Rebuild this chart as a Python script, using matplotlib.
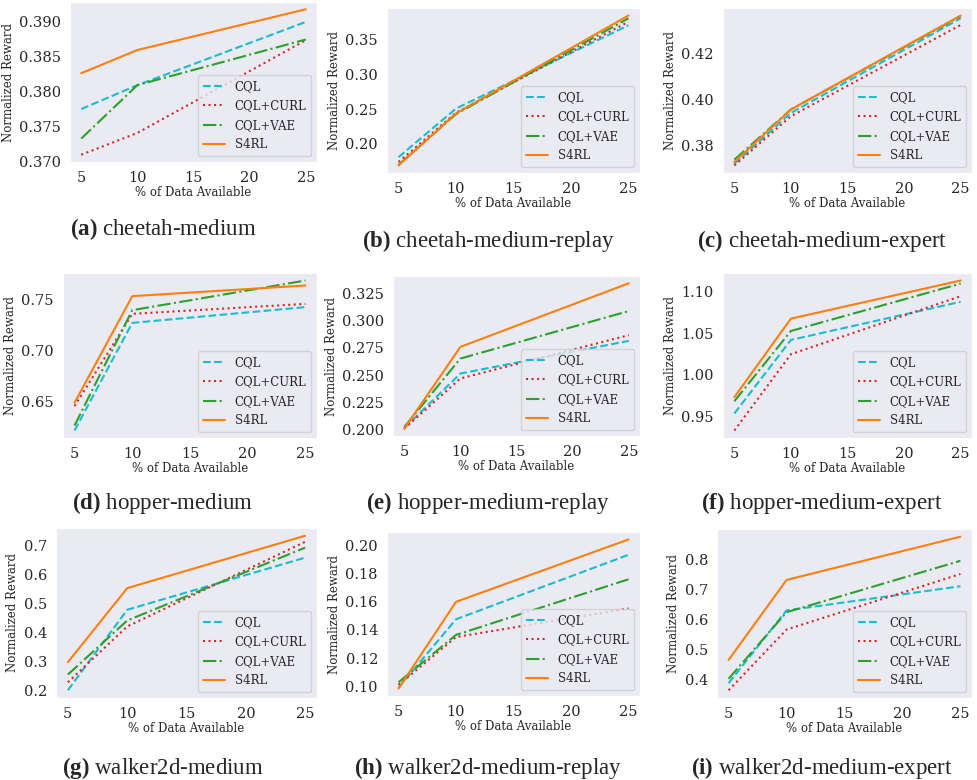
import matplotlib
matplotlib.use("Agg")
import matplotlib.pyplot as plt
import seaborn as sns

sns.set_style("dark")
plt.rcParams["font.family"] = ["DejaVu Serif"]
plt.rcParams["mathtext.fontset"] = "custom"
plt.rcParams["mathtext.rm"] = "Liberation Serif"
plt.rcParams["mathtext.bf"] = "Liberation Serif:bold"

# data
pct = [5, 10, 25]
letters = ["a", "b", "c", "d", "e", "f", "g", "h", "i"]
envs = ["cheetah-medium", "cheetah-medium-replay", "cheetah-medium-expert",
        "hopper-medium", "hopper-medium-replay", "hopper-medium-expert",
        "walker2d-medium", "walker2d-medium-replay", "walker2d-medium-expert"]

cql = [[0.3775, 0.3809, 0.3899],
       [0.181, 0.251, 0.371],
       [0.3722, 0.3942, 0.4351],
       [0.6211, 0.7270, 0.7425],
       [0.2015, 0.2515, 0.2814],
       [0.9532, 1.042, 1.088],
       [0.200, 0.477, 0.6565],
       [0.099, 0.1476, 0.1934],
       [0.389, 0.630, 0.710]]
cql_curl = [[0.3710, 0.3741, 0.3873],
            [0.174, 0.245, 0.376],
            [0.3715, 0.3928, 0.4322],
            [0.6451, 0.7359, 0.7457],
            [0.201, 0.247, 0.2866],
            [0.9327, 1.0247, 1.0948],
            [0.2275, 0.4195, 0.711],
            [0.101, 0.1350, 0.1553],
            [0.365, 0.5665, 0.7507]]
cql_vae = [[0.3733, 0.3809, 0.3874],
           [0.170, 0.243, 0.381],
           [0.3740, 0.3957, 0.4360],
           [0.6260, 0.7395, 0.7687],
           [0.2025, 0.2652, 0.3087],
           [0.968, 1.0528, 1.110],
           [0.254, 0.440, 0.691],
           [0.1028, 0.1365, 0.176],
           [0.4033, 0.624, 0.7945]]
s4rl = [[0.3826, 0.3859, 0.3917],
        [0.169, 0.244, 0.385],
        [0.3730, 0.3957, 0.4363],
        [0.6484, 0.7533, 0.7638],
        [0.201, 0.2759, 0.3341],
        [0.9729, 1.0677, 1.1137],
        [0.2966, 0.5515, 0.732],
        [0.0984, 0.160, 0.2043],
        [0.4658, 0.731, 0.8745]]

yticks = [[0.370, 0.375, 0.380, 0.385, 0.390],
          [0.20, 0.25, 0.30, 0.35],
          [0.38, 0.40, 0.42],
          [0.65, 0.70, 0.75],
          [0.200, 0.225, 0.250, 0.275, 0.300, 0.325],
          [0.95, 1.00, 1.05, 1.10],
          [0.2, 0.3, 0.4, 0.5, 0.6, 0.7],
          [0.10, 0.12, 0.14, 0.16, 0.18, 0.20],
          [0.4, 0.5, 0.6, 0.7, 0.8]]

W, H = 977, 780
# axes boxes in pixels: left, top, right, bottom
boxes = [(70, 2, 317, 162), (387, 8, 640, 173), (723, 8, 972, 173),
         (63, 273, 317, 438), (393, 276, 640, 436), (723, 273, 972, 438),
         (56, 528, 317, 698), (387, 532, 640, 696), (717, 529, 972, 698)]
cap_x = [163, 488, 822]
cap_y = [229, 241, 241, 503, 503, 503, 768, 768, 768]

fig = plt.figure(figsize=(W / 100, H / 100), dpi=100)

for k in range(9):
    l, t, r, b = boxes[k]
    ax = fig.add_axes([l / W, 1 - b / H, (r - l) / W, (b - t) / H])
    ax.plot(pct, cql[k], color="#17becf", ls="--", lw=1.5, label="CQL")
    ax.plot(pct, cql_curl[k], color="#d62728", ls=":", lw=1.5, label="CQL+CURL")
    ax.plot(pct, cql_vae[k], color="#2ca02c", ls="-.", lw=1.5, label="CQL+VAE")
    ax.plot(pct, s4rl[k], color="#ff7f0e", ls="-", lw=1.5, label="S4RL")
    ax.set_xticks([5, 10, 15, 20, 25])
    ax.set_yticks(yticks[k])
    ax.tick_params(labelsize=10.5, pad=3)
    ax.set_xlabel("% of Data Available", fontsize=8.5, labelpad=1)
    ax.set_ylabel("Normalized Reward", fontsize=8.5, labelpad=3)
    ax.legend(loc="lower right", fontsize=8.5, handlelength=1.9,
              handletextpad=0.8, labelspacing=0.55)
    fig.text(cap_x[k % 3] / W, 1 - cap_y[k] / H,
             r"$\mathbf{(" + letters[k] + ")}$ " + envs[k],
             family="Liberation Serif", fontsize=16.5, ha="center", va="center")

fig.savefig("out.png", dpi=100)
